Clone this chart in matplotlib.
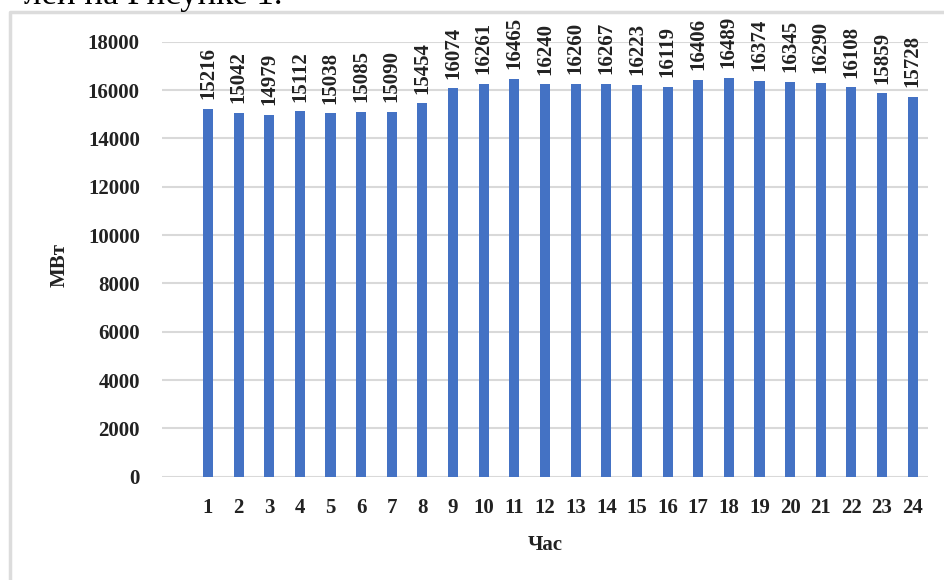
import matplotlib
matplotlib.use("Agg")
import matplotlib.pyplot as plt
from matplotlib.lines import Line2D

plt.rcParams['font.family'] = ['Liberation Serif', 'DejaVu Serif']

hours = list(range(1, 25))
load_mw = [15216, 15042, 14979, 15112, 15038, 15085, 15090, 15454,
           16074, 16261, 16465, 16240, 16260, 16267, 16223, 16119,
           16406, 16489, 16374, 16345, 16290, 16108, 15859, 15728]
y_ticks = list(range(0, 18001, 2000))

W, H = 944, 580
fig = plt.figure(figsize=(W / 100, H / 100), dpi=100)

# chart frame (only top and left edges are inside the image)
fig.add_artist(Line2D([10 / W, 10 / W, 1.0], [0.0, 1 - 12 / H, 1 - 12 / H],
                      transform=fig.transFigure, color='#dcdcdc', lw=2.5))

# tail of the caption line above the chart
fig.text(282 / W, 1 - 4 / H, 'лей на Рисунке 1.', ha='right', va='baseline',
         fontsize=25, color='black')

ax = fig.add_axes([162 / W, 1 - 476.7 / H, (928 - 162) / W, (476.7 - 41.7) / H])
ax.bar(hours, load_mw, width=0.33, color='#4472C4', zorder=3)

for h, v in zip(hours, load_mw):
    ax.annotate(str(v), (h, v), xytext=(0, 7), textcoords='offset points',
                rotation=90, ha='center', va='bottom', fontsize=15,
                fontweight='bold', color='#222222', annotation_clip=False)

ax.set_xlim(-0.5, 24.5)
ax.set_ylim(0, 18000)
ax.set_xticks(hours)
ax.set_yticks(y_ticks)
ax.grid(axis='y', color='#d9d9d9', lw=1.5, zorder=0)
for s in ax.spines.values():
    s.set_visible(False)
ax.tick_params(axis='both', length=0, labelsize=15, labelcolor='#222222')
ax.tick_params(axis='y', pad=16)
ax.tick_params(axis='x', pad=15)
for lab in ax.get_xticklabels() + ax.get_yticklabels():
    lab.set_fontweight('bold')

fig.text(60 / W, 1 - 265 / H, 'МВт', rotation=90, ha='center', va='center',
         fontsize=15, fontweight='bold', color='#222222')
fig.text(545 / W, 1 - 545 / H, 'Час', ha='center', va='center',
         fontsize=15, fontweight='bold', color='#222222')

fig.savefig('out.png', dpi=100)
